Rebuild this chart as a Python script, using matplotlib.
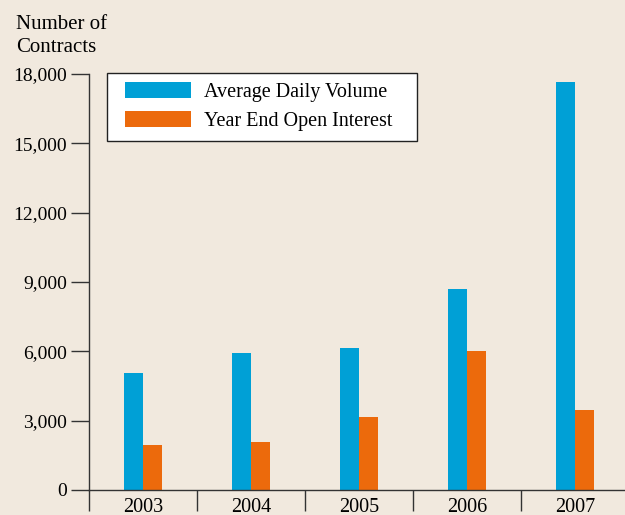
import matplotlib.pyplot as plt
import numpy as np
from matplotlib.patches import Rectangle
from matplotlib.ticker import FuncFormatter

years = ['2003', '2004', '2005', '2006', '2007']
avg_daily_volume = [5060, 5930, 6140, 8700, 17650]
year_end_open_interest = [1950, 2080, 3160, 6010, 3460]

BG = '#f1e9de'
BLUE = '#00a0d6'
ORANGE = '#ec6a0c'
AX = '#333333'

plt.rcParams['font.family'] = ['Liberation Serif', 'DejaVu Serif']

fig = plt.figure(figsize=(6.25, 5.15), dpi=100, facecolor=BG)
ax = fig.add_axes([89 / 625, 25 / 515, 536 / 625, 416 / 515])
ax.set_facecolor(BG)

x = np.arange(len(years))
w = 0.176
ax.bar(x - w / 2, avg_daily_volume, w, color=BLUE, label='Average Daily Volume')
ax.bar(x + w / 2, year_end_open_interest, w, color=ORANGE, label='Year End Open Interest')

ax.set_xlim(-0.5, 4.46)
ax.set_ylim(0, 18000)

# y axis
ax.set_yticks(np.arange(0, 18001, 3000))
ax.yaxis.set_major_formatter(FuncFormatter(lambda v, p: f'{int(v):,}'))
ax.tick_params(axis='y', direction='out', length=13, width=1, color=AX,
               labelsize=14, pad=3)

# x axis: ticks at category boundaries, labels centered
ax.set_xticks(np.arange(-0.5, 4.0, 1.0))
ax.set_xticklabels([])
ax.set_xticks(x, minor=True)
ax.set_xticklabels(years, minor=True)
ax.tick_params(axis='x', which='major', direction='out', length=15, width=1, color=AX)
ax.tick_params(axis='x', which='minor', length=0, labelsize=14.5, pad=6)

for s in ['top', 'right']:
    ax.spines[s].set_visible(False)
for s in ['left', 'bottom']:
    ax.spines[s].set_color(AX)
    ax.spines[s].set_linewidth(1)

fig.text(16 / 625, 1 - 15 / 515, 'Number of\nContracts', fontsize=15,
         ha='left', va='top', linespacing=1.3)

# legend box drawn separately (wider side padding than top/bottom)
ax.add_patch(Rectangle((107 / 625, 1 - 141 / 515), 310 / 625, 68 / 515,
                       transform=fig.transFigure, facecolor='white',
                       edgecolor='#222222', linewidth=1, zorder=3, clip_on=False))
leg = ax.legend(loc='upper left', bbox_to_anchor=(125 / 625, 1 - 82 / 515),
                bbox_transform=fig.transFigure, fontsize=14.5, frameon=False,
                handlelength=3.3, handleheight=0.85, handletextpad=0.6,
                borderpad=0, labelspacing=0.45, borderaxespad=0)
leg.set_zorder(5)

fig.savefig('out.png', dpi=100, facecolor=BG)
